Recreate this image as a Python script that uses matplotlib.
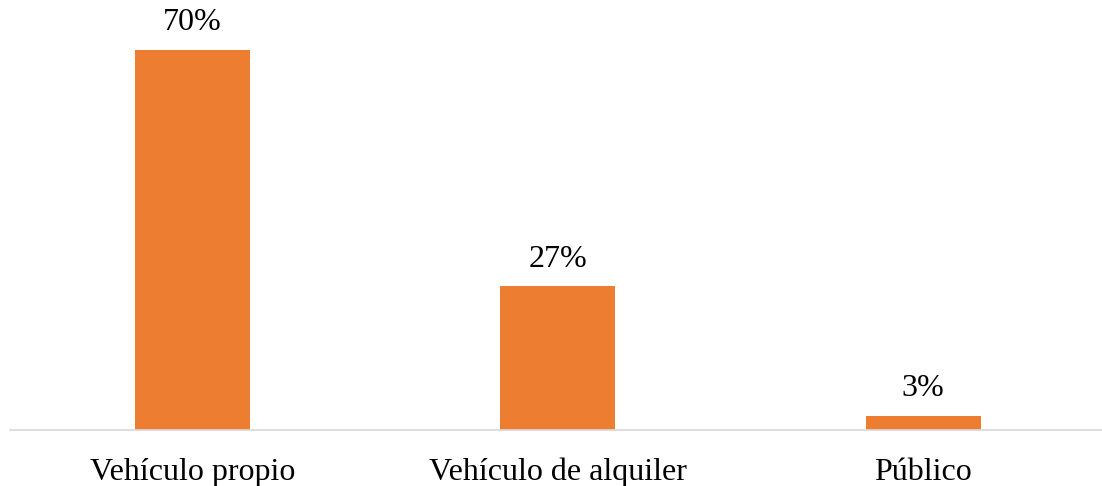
import matplotlib.pyplot as plt

categories = ['Vehículo propio', 'Vehículo de alquiler', 'Público']
values = [70, 26.5, 2.6]
labels = ['70%', '27%', '3%']

plt.rcParams['font.family'] = ['Liberation Serif', 'DejaVu Serif']

fig = plt.figure(figsize=(11.02, 4.86), dpi=100)
ax = fig.add_axes([10 / 1102, 56 / 486, 1092 / 1102, 430 / 486])

x = range(len(categories))
bars = ax.bar(x, values, width=0.315, color='#ED7D31')

for bar, lab in zip(bars, labels):
    ax.annotate(lab, (bar.get_x() + bar.get_width() / 2, bar.get_height()),
                xytext=(0, 9), textcoords='offset points',
                ha='center', va='bottom', fontsize=23)

ax.set_xlim(-0.5, 2.49)
ax.set_ylim(0, 79.2)
ax.set_xticks(list(x))
ax.set_xticklabels(categories, fontsize=23)
ax.tick_params(axis='x', length=0, pad=20)
ax.set_yticks([])
for side in ['top', 'right', 'left']:
    ax.spines[side].set_visible(False)
ax.spines['bottom'].set_color('#D9D9D9')
ax.spines['bottom'].set_linewidth(1.2)

fig.savefig('out.png', dpi=100)
